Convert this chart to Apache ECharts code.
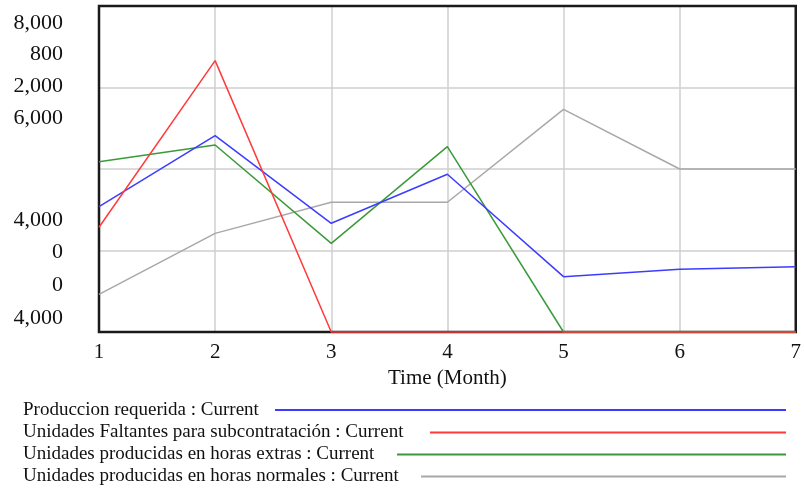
<!DOCTYPE html>
<html>
<head>
<meta charset="utf-8">
<script src="https://cdn.jsdelivr.net/npm/echarts@6/dist/echarts.min.js"></script>
<style>
html,body{margin:0;padding:0;background:#fff;}
#chart{width:804px;height:488px;}
</style>
</head>
<body>
<div id="chart"></div>
<script>
// ---- data ----
var months = [1, 2, 3, 4, 5, 6, 7];
var produccionRequerida = [5537, 6409, 5334, 5935, 4679, 4769, 4801];
var unidadesFaltantes = [257, 666, 0, 0, 0, 0, 0];
var horasExtras = [1045, 1147, 544, 1137, 0, 0, 0];
var horasNormales = [4231, 4605, 4796, 4796, 5366, 5000, 5000];

var seriesNames = [
  'Produccion requerida : Current',
  'Unidades Faltantes para subcontratación : Current',
  'Unidades producidas en horas extras : Current',
  'Unidades producidas en horas normales : Current'
];
// scale ranges for each series (Vensim multi-scale)
var scaleMin = [4000, 0, 0, 4000];
var scaleMax = [8000, 800, 2000, 6000];
// stacked scale labels shown at the left edge (tops, then bottoms)
var scaleLabelsTop = ['8,000', '800', '2,000', '6,000'];
var scaleLabelsBottom = ['4,000', '0', '0', '4,000'];

var allValues = [produccionRequerida, unidadesFaltantes, horasExtras, horasNormales];

// ---- style ----
var seriesColors = ['#3c3cff', '#ff3a3a', '#3a9a3a', '#a8a8a8'];
var legendLineStart = [275, 430, 397, 421];
var legendCenters = [410, 432.5, 454.5, 476.5];
var FONT = '"Liberation Serif", "Times New Roman", serif';

var chart = echarts.init(document.getElementById('chart'), null, {renderer: 'canvas'});

var cv = document.createElement('canvas').getContext('2d');
cv.font = '19px ' + FONT;

var PLOT_LEFT = 99, PLOT_RIGHT = 7, PLOT_TOP = 6, PLOT_BOTTOM = 156;

var yAxes = [];
for (var i = 0; i < 4; i++) {
  yAxes.push({
    type: 'value', gridIndex: 0, min: scaleMin[i], max: scaleMax[i],
    interval: (scaleMax[i] - scaleMin[i]) / 4,
    axisLine: {show: false}, axisTick: {show: false}, axisLabel: {show: false},
    splitLine: {show: i === 0, lineStyle: {color: '#cfcfcf', width: 1.5}}
  });
}
function labelAxis(gi, labels) {
  return {
    type: 'category', gridIndex: gi, inverse: true, boundaryGap: false,
    data: labels,
    axisLine: {show: false}, axisTick: {show: false}, splitLine: {show: false},
    axisLabel: {show: true, interval: 0, margin: 36, color: '#111', fontFamily: FONT, fontSize: 22}
  };
}
yAxes.push(labelAxis(1, scaleLabelsTop));
yAxes.push(labelAxis(2, scaleLabelsBottom));

var series = [];
for (var k = 0; k < 4; k++) {
  series.push({
    name: seriesNames[k], type: 'line', xAxisIndex: 0, yAxisIndex: k,
    data: months.map(function (m, j) { return [m, allValues[k][j]]; }),
    showSymbol: false, symbol: 'none', clip: false,
    lineStyle: {color: seriesColors[k], width: 1.5},
    itemStyle: {color: seriesColors[k]}
  });
}
series[3].z = 2; series[2].z = 3; series[0].z = 4; series[1].z = 5;

var legends = [];
for (var n = 0; n < 4; n++) {
  var tw = cv.measureText(seriesNames[n]).width;
  var gap = legendLineStart[n] - 23 - tw;
  var iw = 786 - legendLineStart[n];
  legends.push({
    data: [{name: seriesNames[n], icon: 'rect'}],
    left: 23, top: legendCenters[n] - 11, align: 'right',
    itemWidth: iw, itemHeight: 2, padding: 0,
    selectedMode: false,
    textStyle: {fontFamily: FONT, fontSize: 19, color: '#111', padding: [0, Math.max(gap - 5, 0), 0, 0], lineHeight: 22}
  });
}

var option = {
  animation: false,
  backgroundColor: '#fff',
  grid: [
    {left: PLOT_LEFT, right: PLOT_RIGHT, top: PLOT_TOP, bottom: PLOT_BOTTOM, show: true, z: 1,
     borderColor: '#1a1a1a', borderWidth: 2.5, backgroundColor: 'transparent', containLabel: false},
    {left: PLOT_LEFT, width: 1, top: 23, bottom: 488 - 118, show: false, containLabel: false},
    {left: PLOT_LEFT, width: 1, top: 220, bottom: 488 - 318, show: false, containLabel: false}
  ],
  xAxis: [
    {type: 'value', gridIndex: 0, min: 1, max: 7, interval: 1,
     axisLine: {show: false}, axisTick: {show: false},
     axisLabel: {show: true, margin: 10, color: '#111', fontFamily: FONT, fontSize: 21},
     splitLine: {show: true, lineStyle: {color: '#cfcfcf', width: 1.5}},
     name: 'Time (Month)', nameLocation: 'middle', nameGap: 33,
     nameTextStyle: {fontFamily: FONT, fontSize: 21, color: '#111'}},
    {type: 'value', gridIndex: 1, show: false},
    {type: 'value', gridIndex: 2, show: false}
  ],
  yAxis: yAxes,
  legend: legends,
  series: series
};
chart.setOption(option);
</script>
</body>
</html>
